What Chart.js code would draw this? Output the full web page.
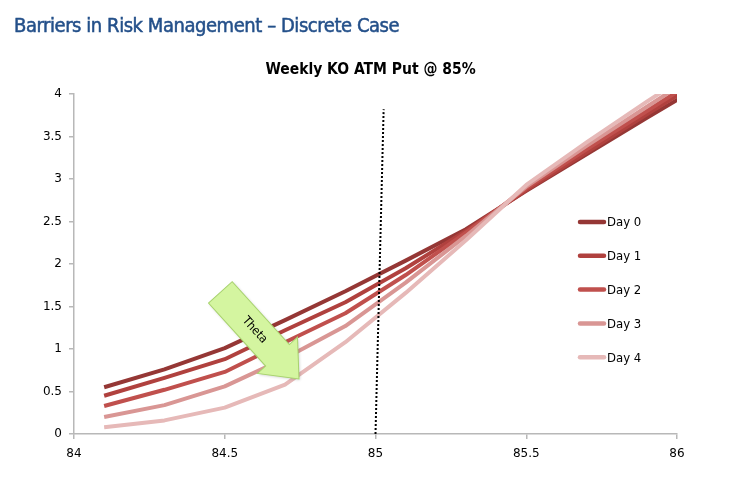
<!DOCTYPE html>
<html lang="en">
<head>
<meta charset="UTF-8">
<title>Weekly KO ATM Put @ 85%</title>
<script src="https://cdn.jsdelivr.net/npm/chart.js"></script>
<style>
    html, body { margin: 0; padding: 0; background: #fff; }
    #wrap { position: relative; width: 741px; height: 492px; overflow: hidden; }
    #wrap canvas { position: absolute; left: 0; top: 0; }
    .page-title {
        position: absolute; left: 14px; top: 13px;
        font-family: "DejaVu Sans Condensed", "DejaVu Sans", sans-serif;
        font-size: 20px; letter-spacing: -0.45px; color: #24508a; white-space: nowrap;
        -webkit-text-stroke: 0.5px #24508a;
    }
    .chart-title {
        position: absolute; left: 0; top: 60px; width: 741px; text-align: center;
        font-family: "DejaVu Sans Condensed", "DejaVu Sans", sans-serif;
        font-size: 15.5px; font-weight: bold; color: #000; white-space: nowrap;
    }
</style>
</head>
<body>
<div id="wrap">
    <canvas id="chart" width="741" height="492"></canvas>
    <div class="page-title">Barriers in Risk Management – Discrete Case</div>
    <div class="chart-title">Weekly KO ATM Put @ 85%</div>
</div>
<script>
// spot levels (points past 86 are clipped by the axis, as in the original)
const spots = [84.1, 84.3, 84.5, 84.7, 84.9, 85.1, 85.3, 85.5, 85.7, 85.9, 86.1];
const day0 = [0.55, 0.76, 1.01, 1.34, 1.68, 2.04, 2.41, 2.86, 3.29, 3.72, 4.14];
const day1 = [0.45, 0.66, 0.88, 1.22, 1.55, 1.95, 2.39, 2.87, 3.31, 3.76, 4.20];
const day2 = [0.33, 0.52, 0.73, 1.08, 1.42, 1.87, 2.37, 2.89, 3.35, 3.80, 4.25];
const day3 = [0.20, 0.34, 0.56, 0.89, 1.27, 1.78, 2.33, 2.91, 3.39, 3.85, 4.31];
const day4 = [0.08, 0.16, 0.31, 0.58, 1.08, 1.66, 2.28, 2.93, 3.43, 3.91, 4.37];
const seriesNames = ['Day 0', 'Day 1', 'Day 2', 'Day 3', 'Day 4'];
const seriesColors = ['#953735', '#b0413e', '#c0504d', '#d99694', '#e6b9b8'];

// barrier marker (dotted)
const barrierX = [85, 85.027];
const barrierY = [0, 3.82];

const xTickLabels = ['84', '84.5', '85', '85.5', '86'];
const yTickLabels = ['0', '0.5', '1', '1.5', '2', '2.5', '3', '3.5', '4'];

const axisColor = '#b8b8b8';
const tickFont = { family: '"DejaVu Sans", sans-serif', size: 12 };

const allSeries = [day0, day1, day2, day3, day4];
const datasets = allSeries.map((vals, i) => ({
    label: seriesNames[i],
    data: spots.map((x, j) => ({ x: x, y: vals[j] })),
    borderColor: seriesColors[i],
    backgroundColor: seriesColors[i],
    borderWidth: 4,
    pointRadius: 0,
    tension: 0,
    borderJoinStyle: 'round',
    fill: false,
    clip: 0,
    order: 4 - i   // later days painted on top
}));
datasets.push({
    label: 'barrier',
    data: barrierX.map((x, j) => ({ x: x, y: barrierY[j] })),
    borderColor: '#000',
    borderWidth: 2,
    borderDash: [2, 2],
    pointRadius: 0,
    fill: false,
    order: -1
});

// legend + theta arrow drawn over the plot
const overlayPlugin = {
    id: 'overlay',
    afterDatasetsDraw(chart) {
        const ctx = chart.ctx;
        ctx.save();
        ctx.translate(299, 379);
        ctx.rotate(Math.atan2(87, 79));
        ctx.beginPath();
        ctx.moveTo(0, 0);
        ctx.lineTo(-32, -27);
        ctx.lineTo(-32, -16);
        ctx.lineTo(-117, -16);
        ctx.lineTo(-117, 16);
        ctx.lineTo(-32, 16);
        ctx.lineTo(-32, 27);
        ctx.closePath();
        ctx.shadowColor = 'rgba(0,0,0,0.2)';
        ctx.shadowBlur = 3;
        ctx.shadowOffsetX = 1;
        ctx.shadowOffsetY = 1;
        ctx.fillStyle = '#d4f5a0';
        ctx.fill();
        ctx.shadowColor = 'transparent';
        ctx.strokeStyle = '#a8d36e';
        ctx.lineWidth = 1;
        ctx.stroke();
        ctx.fillStyle = '#000';
        ctx.font = '12px "DejaVu Sans Condensed", "DejaVu Sans", sans-serif';
        ctx.textAlign = 'center';
        ctx.textBaseline = 'middle';
        ctx.fillText('Theta', -66, 0);
        ctx.restore();
    },
    afterDraw(chart) {
        const ctx = chart.ctx;
        ctx.save();
        ctx.font = '13px "DejaVu Sans Condensed", "DejaVu Sans", sans-serif';
        ctx.textBaseline = 'middle';
        ctx.textAlign = 'left';
        for (let i = 0; i < seriesNames.length; i++) {
            const y = 222 + i * 33.8;
            ctx.strokeStyle = seriesColors[i];
            ctx.lineWidth = 4.5;
            ctx.lineCap = 'round';
            ctx.beginPath();
            ctx.moveTo(580, y);
            ctx.lineTo(604, y);
            ctx.stroke();
            ctx.fillStyle = '#000';
            ctx.fillText(seriesNames[i], 607, y + 1);
        }
        ctx.restore();
    }
};

new Chart(document.getElementById('chart'), {
    type: 'line',
    data: { datasets: datasets },
    options: {
        responsive: false,
        devicePixelRatio: 1,
        animation: false,
        layout: { padding: { top: 94, right: 64, left: 0, bottom: 0 } },
        plugins: {
            legend: { display: false },
            title: { display: false },
            tooltip: { enabled: false }
        },
        scales: {
            x: {
                type: 'linear',
                min: 84, max: 86,
                ticks: {
                    stepSize: 0.5,
                    maxRotation: 0,
                    padding: 8,
                    color: '#000',
                    font: tickFont,
                    callback: (v, i) => xTickLabels[i]
                },
                grid: { drawOnChartArea: false, tickLength: 5, color: axisColor, lineWidth: 1.5 },
                border: { color: axisColor, width: 1.5 },
                afterFit: s => { s.height = 58; }
            },
            y: {
                min: 0, max: 4,
                ticks: {
                    stepSize: 0.5,
                    padding: 7,
                    color: '#000',
                    font: tickFont,
                    callback: (v, i) => yTickLabels[i]
                },
                grid: { drawOnChartArea: false, tickLength: 5, color: axisColor, lineWidth: 1.5 },
                border: { color: axisColor, width: 1.5 },
                afterFit: s => { s.width = 74; }
            }
        }
    },
    plugins: [overlayPlugin]
});
</script>
</body>
</html>
